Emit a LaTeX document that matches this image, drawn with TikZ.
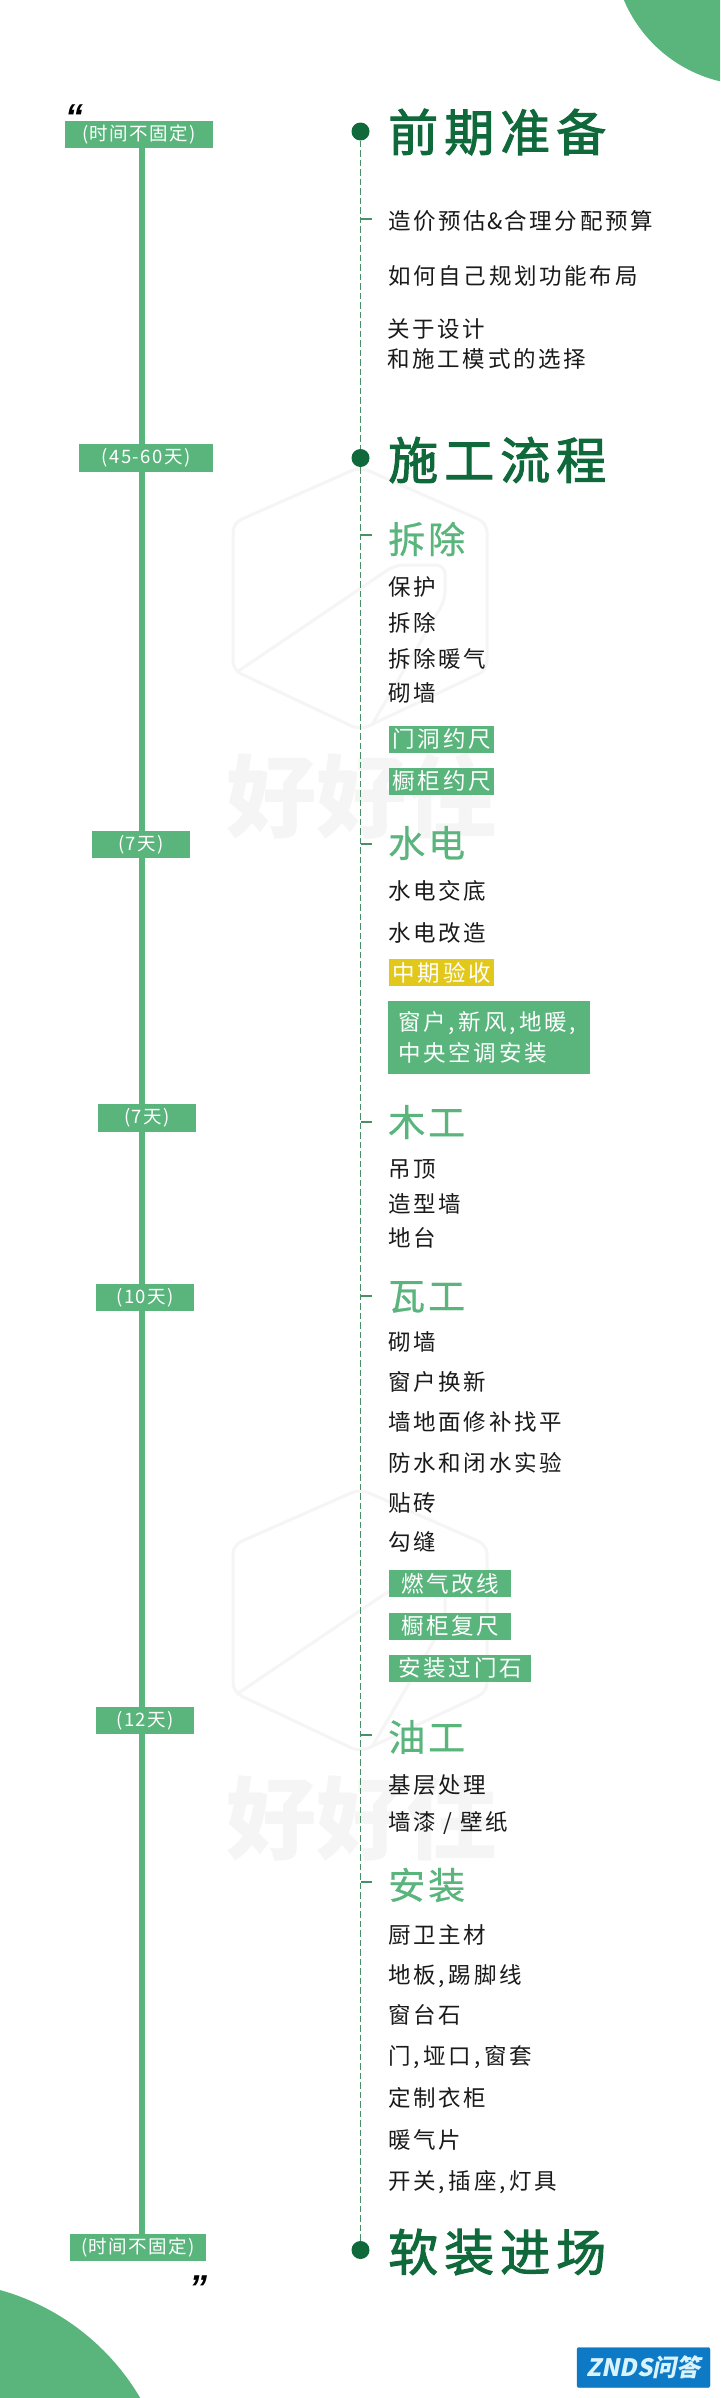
\documentclass[tikz,border=0pt]{standalone}
\usepackage{fontspec}
\usepackage{xcolor}
\usepackage{tikz}
\usetikzlibrary{shapes}
\setmainfont{Noto Sans CJK SC}
\newfontfamily\itemfont[LetterSpace=12]{Noto Sans CJK SC}
\newfontfamily\headfont[LetterSpace=8,FakeBold=0.6]{Noto Sans CJK SC}
\newfontfamily\titlefont[LetterSpace=12,FakeBold=2]{Noto Sans CJK SC}
\newfontfamily\tagfont[LetterSpace=8]{Noto Sans CJK SC}
\newfontfamily\logofont[FakeSlant=0.2]{Noto Sans CJK SC}
\newfontfamily\quotefont{Liberation Sans}
\definecolor{leaf}{RGB}{90,181,125}
\definecolor{pine}{RGB}{16,105,58}
\definecolor{ink}{RGB}{26,26,26}
\definecolor{straw}{RGB}{227,200,28}
\definecolor{sea}{RGB}{14,122,197}
\definecolor{ghost}{RGB}{245,245,245}
\tikzstyle{tag}=[fill=leaf, text=white, inner sep=0pt, minimum height=27.5pt, font=\tagfont\fontsize{18.5}{18.5}\selectfont]
\tikzstyle{title}=[anchor=west, inner sep=0pt, text=pine, font=\titlefont\fontsize{50}{50}\selectfont]
\tikzstyle{head}=[anchor=west, inner sep=0pt, text=leaf, font=\headfont\fontsize{37}{37}\selectfont]
\tikzstyle{item}=[anchor=west, inner sep=0pt, text=ink, align=left, font=\itemfont\fontsize{22.5}{30}\selectfont]
\tikzstyle{chip}=[anchor=north west, fill=leaf, text=white, inner sep=0pt, minimum height=26.5pt, font=\itemfont\fontsize{22.5}{31}\selectfont]
\tikzstyle{dot}=[circle, fill=pine, inner sep=0pt, minimum size=18pt]
\tikzstyle{spineline}=[draw=leaf, line width=5.6pt]
\tikzstyle{dashline}=[draw=leaf!80!black, line width=1.8pt, dash pattern=on 6.5pt off 3pt]
\tikzstyle{tick}=[draw=leaf!80!black, line width=1.6pt]
\tikzstyle{ghostline}=[draw=ghost, line width=3pt, rounded corners=9pt]
\def\cma{,\hspace{4pt}}

\begin{document}
\begin{tikzpicture}[x=1pt,y=-1pt]
		\useasboundingbox (0,0) rectangle (720,2398);
		\fill[white] (0,0) rectangle (720,2398);
		\clip (0,0) rectangle (720,2398);
		\fill[leaf] (752,-54) circle (139);
		\fill[leaf] (-63,2517) circle (235.5);
	%--------------------
		\draw[ghostline] (360,467)--(487,523)--(487,670)--(360,730)--(233,670)--(233,523)--cycle;
		\draw[ghostline] (237,672)--(395,565)--(445,565)--(445,600)--(373,723);
		\node[inner sep=0pt, text=ghost, font=\bfseries\fontsize{90}{90}\selectfont] (markA) at (361,796) {好好住};
		\draw[ghostline] (360,1489)--(487,1545)--(487,1692)--(360,1752)--(233,1692)--(233,1545)--cycle;
		\draw[ghostline] (237,1694)--(395,1587)--(445,1587)--(445,1622)--(373,1745);
		\node[inner sep=0pt, text=ghost, font=\bfseries\fontsize{90}{90}\selectfont] (markB) at (361,1818) {好好住};
	%--------------------
		\node[tag, minimum width=148pt] (tagA) at (139,134.5) {(时间不固定)};
		\node[tag, minimum width=134.5pt] (tagB) at (146,458) {(45-60天)};
		\node[tag, minimum width=98pt] (tagC) at (141,844.5) {(7天)};
		\node[tag, minimum width=98pt] (tagD) at (147,1118) {(7天)};
		\node[tag, minimum width=98pt] (tagE) at (145,1297.5) {(10天)};
		\node[tag, minimum width=98pt] (tagF) at (145,1720.5) {(12天)};
		\node[tag, minimum width=136pt] (tagG) at (138,2247.5) {(时间不固定)};
		\coordinate (spine) at (142,0);
		\draw[spineline] (spine |- tagA.south)--(spine |- tagB.north);
		\draw[spineline] (spine |- tagB.south)--(spine |- tagC.north);
		\draw[spineline] (spine |- tagC.south)--(spine |- tagD.north);
		\draw[spineline] (spine |- tagD.south)--(spine |- tagE.north);
		\draw[spineline] (spine |- tagE.south)--(spine |- tagF.north);
		\draw[spineline] (spine |- tagF.south)--(spine |- tagG.north);
		\node[inner sep=0pt, anchor=base, font=\quotefont\bfseries\itshape\fontsize{36}{36}\selectfont] (openq) at (74,129) {“};
		\node[inner sep=0pt, anchor=base, font=\quotefont\bfseries\itshape\fontsize{36}{36}\selectfont] (closeq) at (198,2300) {”};
	%--------------------
		\node[dot] (dotA) at (360.5,131.5) {};
		\node[dot] (dotB) at (360.5,458) {};
		\node[dot] (dotC) at (360.5,2250) {};
		\draw[dashline] (dotA)--(dotB);
		\draw[dashline] (dotB)--(dotC);
		\coordinate (tickA) at (361,219);
		\coordinate (tickB) at (361,535);
		\coordinate (tickC) at (361,844);
		\coordinate (tickD) at (361,1122);
		\coordinate (tickE) at (361,1296);
		\coordinate (tickF) at (361,1735);
		\coordinate (tickG) at (361,1882);
		\draw[tick] (tickA)-- ++(11,0);
		\draw[tick] (tickB)-- ++(11,0);
		\draw[tick] (tickC)-- ++(11,0);
		\draw[tick] (tickD)-- ++(11,0);
		\draw[tick] (tickE)-- ++(11,0);
		\draw[tick] (tickF)-- ++(11,0);
		\draw[tick] (tickG)-- ++(11,0);
	%--------------------
		\node[title] (prep) at (388,132) {前期准备};
		\node[item] (budget) at (388,221) {造价预估\hspace{1.5pt}\&\hspace{1.5pt}合理分配预算};
		\node[item] (layout) at (388,276) {如何自己规划功能布局};
		\node[item] (mode) at (387,344) {关于设计\\和施工模式的选择};
		\node[title] (build) at (388,460) {施工流程};
		\node[head] (demo) at (388,539) {拆除};
		\node[item] (guard) at (388,587) {保护};
		\node[item] (strip) at (388,623) {拆除};
		\node[item] (heat) at (388,659) {拆除暖气};
		\node[item] (wall) at (388,693) {砌墙};
		\node[chip, minimum width=105pt] (door) at (389,726) {门洞约尺};
		\node[chip, minimum width=105pt] (cab) at (389,768) {橱柜约尺};
		\node[head] (plumb) at (388,843) {水电};
		\node[item] (brief) at (388,891) {水电交底};
		\node[item] (rewire) at (388,933) {水电改造};
		\node[chip, fill=straw, minimum width=105pt] (midcheck) at (389,959) {中期验收};
		\node[chip, minimum width=202pt, minimum height=73pt, text width=182pt, align=left] (window) at (388,1001) {窗户\cma 新风\cma 地暖,\\中央空调安装};
		\node[head] (wood) at (388,1122) {木工};
		\node[item] (ceil) at (388,1169) {吊顶};
		\node[item] (shape) at (388,1204) {造型墙};
		\node[item] (plat) at (388,1238) {地台};
		\node[head] (tile) at (388,1297) {瓦工};
		\node[item] (wallb) at (388,1342) {砌墙};
		\node[item] (newwin) at (388,1382) {窗户换新};
		\node[item] (level) at (388,1422) {墙地面修补找平};
		\node[item] (proof) at (388,1463) {防水和闭水实验};
		\node[item] (paste) at (388,1503) {贴砖};
		\node[item] (seam) at (388,1542) {勾缝};
		\node[chip, minimum width=122pt] (gas) at (389,1570) {燃气改线};
		\node[chip, minimum width=122pt] (recab) at (389,1613) {橱柜复尺};
		\node[chip, minimum width=142pt] (sill) at (389,1655) {安装过门石};
		\node[head] (paint) at (388,1737) {油工};
		\node[item] (base) at (388,1785) {基层处理};
		\node[item] (coat) at (388,1823) {墙漆 / 壁纸};
		\node[head] (fit) at (388,1885) {安装};
		\node[item] (kitchen) at (388,1935) {厨卫主材};
		\node[item] (floor) at (388,1976) {地板\cma 踢脚线};
		\node[item] (stone) at (388,2015) {窗台石};
		\node[item] (frame) at (388,2057) {门\cma 垭口\cma 窗套};
		\node[item] (robe) at (388,2098) {定制衣柜};
		\node[item] (radi) at (388,2140) {暖气片};
		\node[item] (light) at (388,2182) {开关\cma 插座\cma 灯具};
		\node[title] (soft) at (388,2252) {软装进场};
	%--------------------
		\node[draw=sea, fill=sea, rounded corners=2pt, text=white!85!cyan, inner sep=0pt, minimum width=133pt, minimum height=40pt, font=\logofont\bfseries\fontsize{24}{24}\selectfont] (logo) at (643.5,2367.5) {ZNDS问答};
	\end{tikzpicture}
\end{document}
